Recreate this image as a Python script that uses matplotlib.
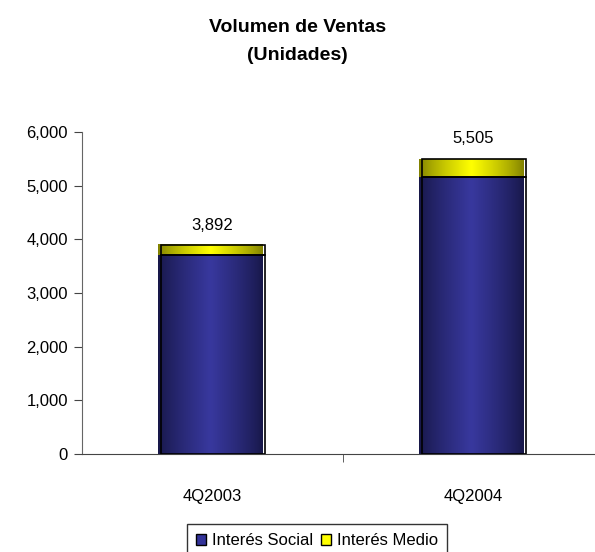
import numpy as np
import matplotlib.pyplot as plt
from matplotlib.patches import Rectangle, Patch

plt.rcParams['font.family'] = ['Liberation Sans', 'DejaVu Sans']

categories = ['4Q2003', '4Q2004']
social = [3700, 5170]
medio = [192, 335]
totals = [3892, 5505]
series_names = ['Interés Social', 'Interés Medio']

W, H = 595, 552
fig = plt.figure(figsize=(W / 100, H / 100), dpi=100)
ax = fig.add_axes([82 / W, (H - 454) / H, (604 - 82) / W, (454 - 132) / H])

ax.set_xlim(-0.5, 1.5)
ax.set_ylim(0, 6000)

# horizontal gradients for the cylinder look
def gradient_cmap(edge, center):
    t = np.linspace(0, 1, 256)
    w = 1 - np.abs(t - 0.5) * 2
    w = w ** 0.8
    edge = np.array(edge)
    center = np.array(center)
    return (edge[None, :] * (1 - w[:, None]) + center[None, :] * w[:, None])[None, :, :]

blue_grad = gradient_cmap([0.09, 0.09, 0.28], [0.22, 0.22, 0.62])
yellow_grad = gradient_cmap([0.50, 0.50, 0.0], [1.0, 1.0, 0.0])

width = 0.4
dx = 3 / 261  # shadow offset in data units (3 px)
for i in range(len(categories)):
    x0 = i - width / 2 - 0.01
    segs = [(0, social[i], blue_grad), (social[i], social[i] + medio[i], yellow_grad)]
    for b, t, g in segs:
        ax.imshow(g, extent=[x0, x0 + width, b, t], aspect='auto', zorder=2,
                  interpolation='bilinear')
        ax.add_patch(Rectangle((x0 + dx, b), width, t - b, fill=False,
                               edgecolor='black', lw=1.2, zorder=3))
    ax.text(i, totals[i] + 230, f'{totals[i]:,}', ha='center', va='bottom',
            fontsize=12)

ax.set_yticks(np.arange(0, 6001, 1000))
ax.set_yticklabels([f'{v:,}' for v in range(0, 6001, 1000)], fontsize=12)
ax.set_xticks(range(len(categories)))
ax.set_xticklabels(categories, fontsize=12)
ax.set_xticks([0.5, 1.5], minor=True)
ax.tick_params(axis='x', which='major', length=0, pad=25)
ax.tick_params(axis='x', which='minor', length=6, direction='out', color='#444444')
ax.tick_params(axis='y', length=6, direction='out', color='#444444', pad=4)

for s in ['top', 'right']:
    ax.spines[s].set_visible(False)
ax.spines['left'].set_color('#666666')
ax.spines['bottom'].set_color('#444444')

fig.text(0.5, (H - 27) / H, 'Volumen de Ventas',
         ha='center', va='center', fontsize=14, fontweight='bold')
fig.text(0.5, (H - 55) / H, '(Unidades)', ha='center', va='center',
         fontsize=14, fontweight='bold')

handles = [Patch(facecolor='#333399', edgecolor='black'),
           Patch(facecolor='#ffff00', edgecolor='black')]
fig.legend(handles, series_names, loc='upper center',
           bbox_to_anchor=(317 / W, (H - 524) / H), ncol=2, fontsize=12,
           frameon=True, fancybox=False, edgecolor='black',
           handlelength=0.6, handleheight=0.6, handletextpad=0.35,
           columnspacing=0.5, borderpad=0.55, borderaxespad=0)

fig.savefig('out.png', dpi=100)
